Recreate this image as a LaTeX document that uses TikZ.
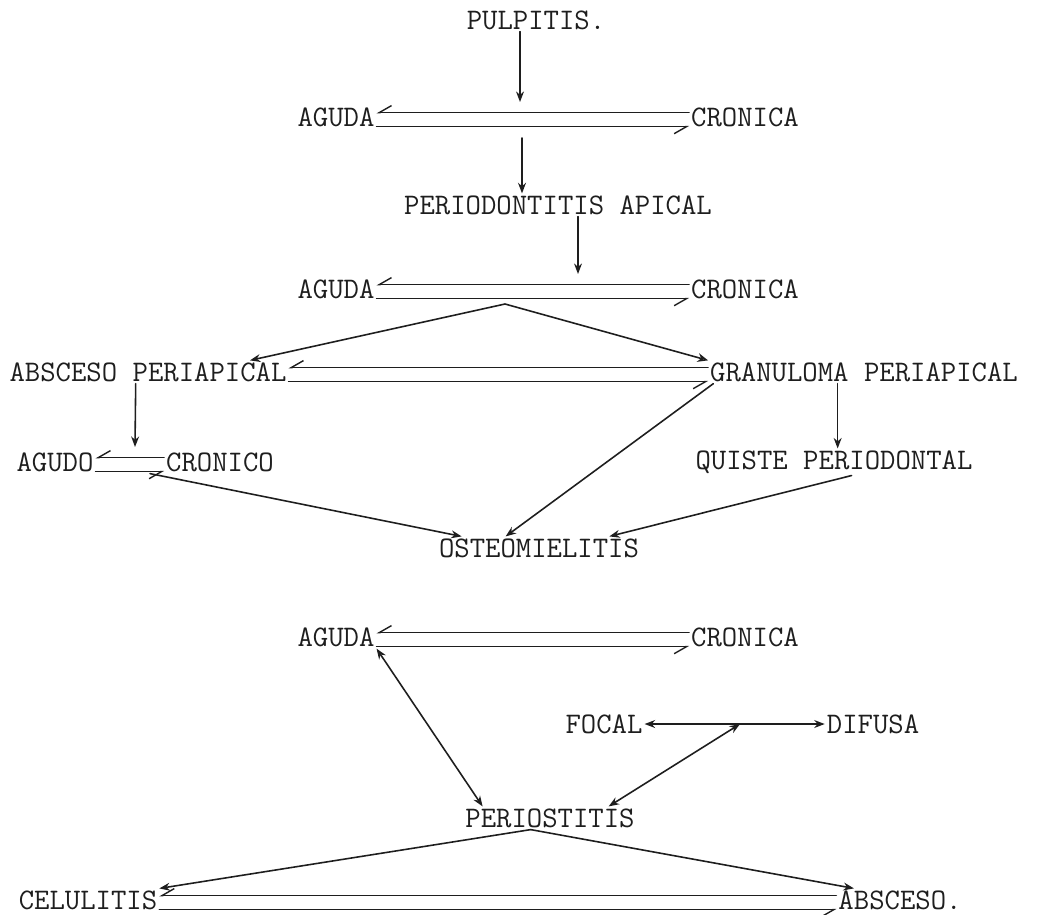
\documentclass[tikz,border=0pt]{standalone}
\usepackage{fontspec}
\usetikzlibrary{arrows.meta}

\begin{document}
\begin{tikzpicture}[
		x=0.02cm,y=-0.02cm,
		>={Stealth[length=6pt,width=4.5pt]},
		line cap=round,line join=round,
		font=\fontsize{17}{20}\selectfont\ttfamily,
		]
		% ---- colors
		\definecolor{inkGray}{RGB}{30,30,30}
		
		% ---- styles
		\tikzset{
			lbl/.style={inner sep=1pt, text=inkGray},
			link/.style={draw=inkGray, line width=0.9pt, ->},
			twoway/.style={draw=inkGray, line width=0.9pt, <->},
			opentip/.style={draw=inkGray, line width=0.9pt, -{Stealth[open,length=6pt,width=5pt]}},
			hook/.style={draw=inkGray, line width=0.8pt, -{Straight Barb[harpoon,swap,length=7pt,width=8pt]}}
		}
		% two lines, upper one back to the left, lower one on to the right
		\newcommand\pairlines[2]{%
			\draw[hook] ([yshift=2.5pt]#2.west) -- ([yshift=2.5pt]#1.east);
			\draw[hook] ([yshift=-5.5pt]#1.east) -- ([yshift=-5.5pt]#2.west);
		}
		
		\useasboundingbox (0,0) rectangle (1050,914);
		
		% ---- labels
		\node[lbl] (Pulp)    at (536, 20) {PULPITIS.};
		
		\node[lbl] (AgudaA)  at (336,117) {AGUDA};
		\node[lbl] (CronA)   at (745,117) {CRONICA};
		
		\node[lbl] (PerApi)  at (558,205) {PERIODONTITIS APICAL};
		
		\node[lbl] (AgudaB)  at (336,289) {AGUDA};
		\node[lbl] (CronB)   at (745,289) {CRONICA};
		
		\node[lbl] (AbsPer)  at (148,372) {ABSCESO PERIAPICAL};
		\node[lbl] (GranPer) at (864,372) {GRANULOMA PERIAPICAL};
		
		\node[lbl] (Agudo)   at ( 55,462) {AGUDO};
		\node[lbl] (Cronico) at (220,462) {CRONICO};
		\node[lbl] (Quiste)  at (834,462) {QUISTE PERIODONTAL};
		
		\node[lbl] (Osteo)   at (539,548) {OSTEOMIELITIS};
		
		\node[lbl] (AgudaC)  at (336,637) {AGUDA};
		\node[lbl] (CronC)   at (745,637) {CRONICA};
		
		\node[lbl] (Focal)   at (604,724) {FOCAL};
		\node[lbl] (Difusa)  at (873,724) {DIFUSA};
		
		\node[lbl] (Periost) at (550,818) {PERIOSTITIS};
		
		\node[lbl] (Celul)   at ( 88,900) {CELULITIS};
		\node[lbl] (Absc)    at (900,900) {ABSCESO.};
		
		% ---- free ends on the double lines
		\coordinate (hitA)  at (520,102);
		\coordinate (outA)  at (522,138);
		\coordinate (hitB)  at (578,274);
		\coordinate (forkB) at (505,304);
		\coordinate (dropAb) at (135,447);
		\coordinate (jct)   at (740,724);
		
		% ---- double lines
		\pairlines{AgudaA}{CronA}
		\pairlines{AgudaB}{CronB}
		\pairlines{AbsPer}{GranPer}
		\pairlines{Agudo}{Cronico}
		\pairlines{AgudaC}{CronC}
		\pairlines{Celul}{Absc}
		
		% ---- top chain
		\draw[link] (Pulp.south -| hitA) -- (hitA);
		\draw[link] (outA) -- (outA |- PerApi.north);
		\draw[link] (PerApi.south -| hitB) -- (hitB);
		
		% ---- fork to the two periapical lesions
		\draw[link] (forkB) -- ([xshift=-22pt]AbsPer.north east);
		\draw[opentip] (forkB) -- (GranPer.north west);
		
		\draw[link] ([xshift=-7pt]AbsPer.south) -- (dropAb);
		\draw[link] ([xshift=-15pt]GranPer.south) -- ([xshift=-15pt]GranPer.south |- Quiste.north);
		
		% ---- into osteomielitis
		\draw[link] ([xshift=-8pt]Cronico.south west) -- ([xshift=-44pt]Osteo.north);
		\draw[link] ([xshift=3pt]GranPer.south west) -- ([xshift=-19pt]Osteo.north);
		\draw[link] ([xshift=10pt]Quiste.south) -- ([xshift=40pt]Osteo.north);
		
		% ---- lower part
		\draw[twoway] (AgudaC.south east) -- ([xshift=11pt]Periost.north west);
		\draw[link] (jct) -- (Focal.east);
		\draw[link] (jct) -- (Difusa.west);
		\draw[twoway] ([xshift=-16pt]Periost.north east) -- (jct);
		
		\draw[link] ([xshift=-11pt]Periost.south) -- (Celul.north east);
		\draw[link] ([xshift=-11pt]Periost.south) -- ([xshift=10pt]Absc.north west);
		
	\end{tikzpicture}
\end{document}
